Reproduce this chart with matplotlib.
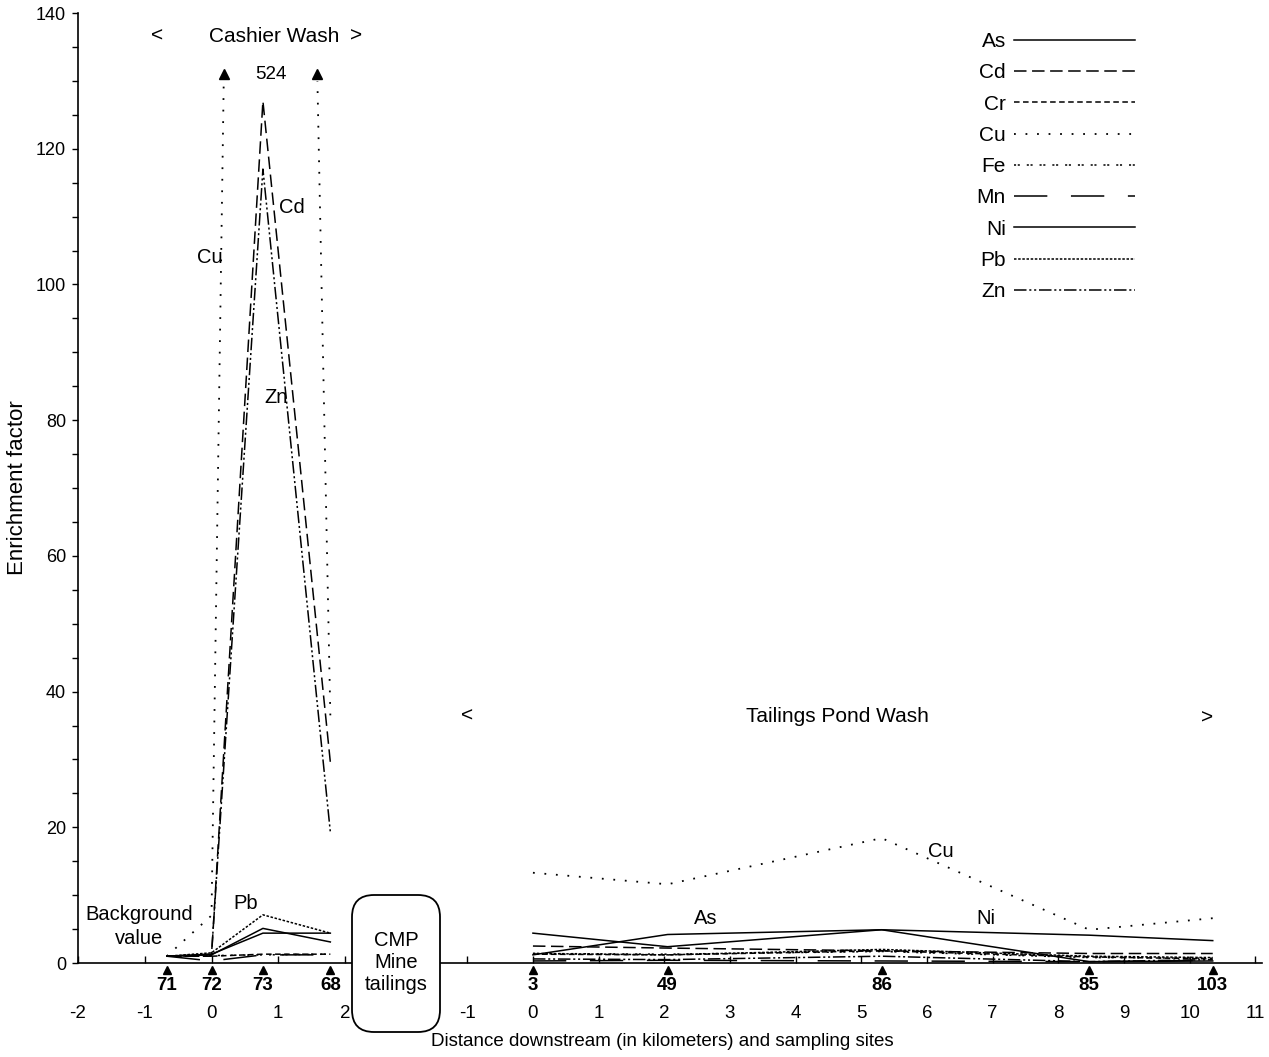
import numpy as np
import matplotlib
matplotlib.use("Agg")
import matplotlib.pyplot as plt
from matplotlib.patches import FancyBboxPatch, Rectangle
from matplotlib.transforms import IdentityTransform

plt.rcParams['font.family'] = ['Liberation Sans', 'DejaVu Sans']
plt.rcParams['axes.unicode_minus'] = False
plt.rcParams['lines.scale_dashes'] = False

elements = ["As", "Cd", "Cr", "Cu", "Fe", "Mn", "Ni", "Pb", "Zn"]

# Cashier Wash: sampling sites and distance (km)
cw_sites = ["71", "72", "73", "68"]
cw_km = [-0.67, 0.0, 0.77, 1.78]
cw_as = [1.0, 1.2, 5.1, 3.1]
cw_cd = [1.0, 1.0, 127.0, 29.6]
cw_cr = [1.0, 1.0, 1.3, 1.3]
cw_cu = [1.0, 7.0, 524.0, 36.5]
cw_fe = [1.0, 1.1, 1.2, 1.3]
cw_mn = [1.0, 0.3, 1.2, 1.2]
cw_ni = [1.0, 1.3, 4.4, 4.4]
cw_pb = [1.0, 1.5, 7.1, 4.4]
cw_zn = [1.0, 1.3, 117.0, 19.3]

# Tailings Pond Wash: sampling sites and distance (km)
tp_sites = ["3", "49", "86", "85", "103"]
tp_km = [0.0, 2.05, 5.31, 8.47, 10.35]
tp_as = [1.2, 4.2, 4.9, 0.2, 0.3]
tp_cd = [2.5, 2.2, 1.8, 1.4, 1.4]
tp_cr = [1.3, 1.2, 1.8, 0.9, 0.6]
tp_cu = [13.3, 11.6, 18.4, 4.9, 6.6]
tp_fe = [1.4, 1.3, 1.7, 0.8, 0.7]
tp_mn = [0.3, 0.4, 0.3, 0.2, 0.4]
tp_ni = [4.4, 2.4, 4.9, 4.1, 3.3]
tp_pb = [1.4, 1.2, 2.0, 1.0, 0.8]
tp_zn = [0.6, 0.5, 1.0, 0.2, 0.5]

cw_vals = [cw_as, cw_cd, cw_cr, cw_cu, cw_fe, cw_mn, cw_ni, cw_pb, cw_zn]
tp_vals = [tp_as, tp_cd, tp_cr, tp_cu, tp_fe, tp_mn, tp_ni, tp_pb, tp_zn]

styles = {
    "As": "-",
    "Cd": (0, (9, 4)),
    "Cr": (0, (4, 2.5)),
    "Cu": (0, (1.3, 7)),
    "Fe": (0, (1.5, 1.2, 1.5, 5)),
    "Mn": (0, (24, 17)),
    "Ni": "-",
    "Pb": (0, (1.8, 1.2)),
    "Zn": (0, (9, 2, 1.5, 2, 1.5, 2)),
}

CAP = 130  # off-scale values are cut here and flagged with an arrow

W, H = 1269, 1057
fig = plt.figure(figsize=(W / 100, H / 100), dpi=100)
y0 = 1 - 963 / H
yh = 950 / H
ax1 = fig.add_axes([78 / W, y0, 273.7 / W, yh])
ax2 = fig.add_axes([440 / W, y0, 822 / W, yh])

for ax in (ax1, ax2):
    ax.set_ylim(0, 140)
    ax.patch.set_alpha(0)
    ax.spines['top'].set_visible(False)
    ax.spines['right'].set_visible(False)
    ax.spines['bottom'].set_linewidth(1.2)
    ax.tick_params(axis='x', direction='in', length=5, width=1, pad=30,
                   labelsize=13.5)

ax1.set_xlim(-2, 2.1)
ax1.set_xticks(range(-2, 3))
ax1.spines['left'].set_linewidth(1.2)
ax1.set_yticks(range(0, 141, 20))
ax1.set_yticks(range(0, 141, 5), minor=True)
ax1.tick_params(axis='y', which='both', direction='out', length=4.5,
                width=1, pad=4, labelsize=13)

ax2.set_xlim(-1.415, 11.1)
ax2.set_xticks(range(-1, 12))
ax2.spines['left'].set_visible(False)
ax2.tick_params(axis='y', which='both', left=False, labelleft=False)

handles = []
for el, cv, tv in zip(elements, cw_vals, tp_vals):
    lw = 1.3 if el == "Cu" else 1.1
    ln, = ax1.plot(cw_km, cv, color='black', lw=lw, linestyle=styles[el],
                   label=el)
    ax2.plot(tp_km, tv, color='black', lw=lw, linestyle=styles[el])
    if el == "Cu":
        ln.set_clip_path(Rectangle((-2, -5), 4.1, CAP + 5,
                                   transform=ax1.transData))
    handles.append(ln)

# arrows where Cu leaves the top of the scale
cross = []
for i in range(len(cw_km) - 1):
    a, b = cw_cu[i], cw_cu[i + 1]
    if (a - CAP) * (b - CAP) < 0:
        t = (CAP - a) / (b - a)
        cross.append(cw_km[i] + t * (cw_km[i + 1] - cw_km[i]))
ax1.plot(cross, [CAP + 1] * len(cross), '^', color='black', ms=7,
         clip_on=False)
ax1.text(np.mean(cross), CAP + 1, f"{max(cw_cu):g}", ha='center',
         va='center', fontsize=13.5)

# site markers and numbers under the axis
for ax, km, sites in ((ax1, cw_km, cw_sites), (ax2, tp_km, tp_sites)):
    ax.plot(km, [-1.0] * len(km), '^', color='black', ms=6, clip_on=False)
    for x, s in zip(km, sites):
        ax.text(x, -3.3, s, ha='center', va='center', fontsize=13.5,
                fontweight='bold', clip_on=False)

# labels inside the Cashier Wash panel
ax1.text(-0.82, 136.6, "<", ha='center', va='center', fontsize=15)
ax1.text(0.94, 136.6, "Cashier Wash", ha='center', va='center', fontsize=15)
ax1.text(2.17, 136.6, ">", ha='center', va='center', fontsize=15)
ax1.text(1.2, 111.4, "Cd", ha='center', va='center', fontsize=14.5)
ax1.text(-0.03, 104.0, "Cu", ha='center', va='center', fontsize=14.5)
ax1.text(0.97, 83.3, "Zn", ha='center', va='center', fontsize=14.5)
ax1.text(0.51, 8.8, "Pb", ha='center', va='center', fontsize=14.5)
ax1.text(-1.09, 5.4, "Background\nvalue", ha='center', va='center',
         fontsize=14.5, linespacing=1.3)

# labels inside the Tailings Pond Wash panel
ax2.text(-1.0, 36.4, "<", ha='center', va='center', fontsize=15)
ax2.text(4.63, 36.4, "Tailings Pond Wash", ha='center', va='center',
         fontsize=15)
ax2.text(10.26, 36.1, ">", ha='center', va='center', fontsize=15)
ax2.text(6.21, 16.5, "Cu", ha='center', va='center', fontsize=14.5)
ax2.text(2.63, 6.6, "As", ha='center', va='center', fontsize=14.5)
ax2.text(6.9, 6.6, "Ni", ha='center', va='center', fontsize=14.5)

# mine tailings box between the two reaches
box = FancyBboxPatch((352, H - 1032), 88, 137,
                     boxstyle="round,pad=0,rounding_size=22",
                     transform=IdentityTransform(), facecolor='white',
                     edgecolor='black', lw=1.3, zorder=5)
fig.patches.append(box)
fig.text(396 / W, 1 - 963 / H, "CMP\nMine\ntailings", ha='center',
         va='center', fontsize=14.5, zorder=6)

fig.legend(handles=handles, loc='upper right',
           bbox_to_anchor=(1135 / W, 1 - 32 / H), frameon=False,
           markerfirst=False, fontsize=15, handlelength=5.8,
           handletextpad=0.4, labelspacing=0.59, borderpad=0,
           borderaxespad=0)

fig.text(662 / W, 1 - 1042 / H,
         "Distance downstream (in kilometers) and sampling sites",
         ha='center', va='center', fontsize=13.5)
fig.text(18 / W, 1 - 488 / H, "Enrichment factor", rotation=90,
         ha='center', va='center', fontsize=16,
         family=['Liberation Sans Narrow', 'Liberation Sans'])

fig.savefig("out.png", dpi=100, facecolor='white')
